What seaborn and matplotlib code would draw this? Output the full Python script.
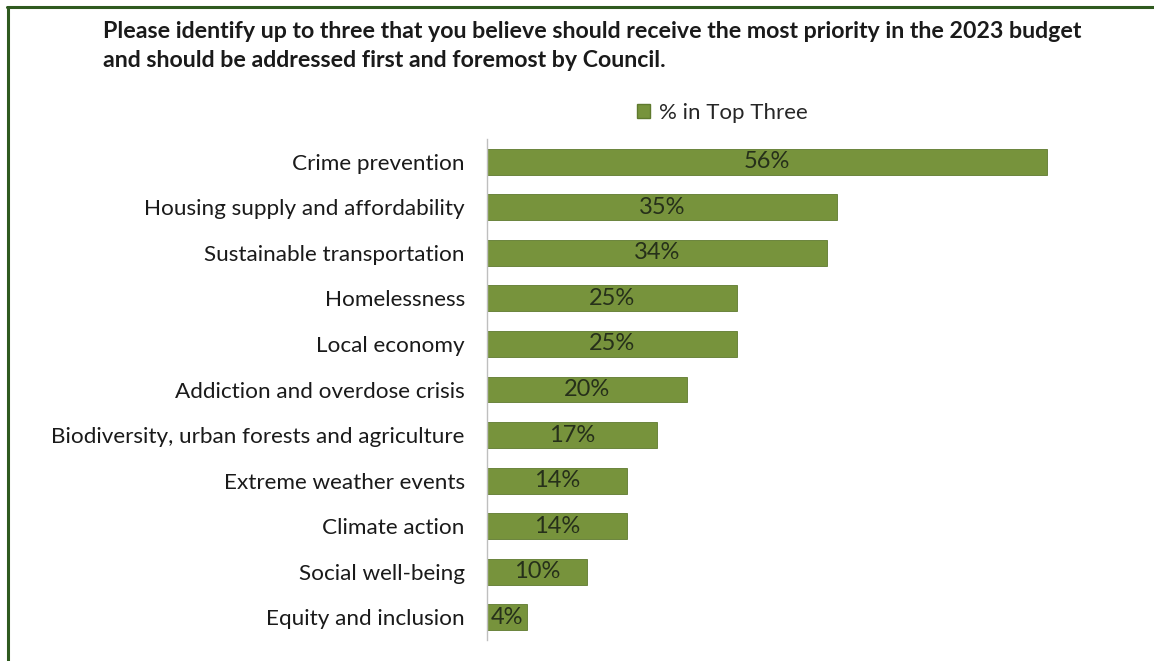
import matplotlib
matplotlib.use("Agg")
import matplotlib.pyplot as plt
import seaborn as sns
import pandas as pd
from matplotlib.lines import Line2D
from matplotlib.patches import Patch

categories = [
    "Crime prevention",
    "Housing supply and affordability",
    "Sustainable transportation",
    "Homelessness",
    "Local economy",
    "Addiction and overdose crisis",
    "Biodiversity, urban forests and agriculture",
    "Extreme weather events",
    "Climate action",
    "Social well-being",
    "Equity and inclusion",
]
values = [56, 35, 34, 25, 25, 20, 17, 14, 14, 10, 4]
series_name = "% in Top Three"
title = ("Please identify up to three that you believe should receive the most priority in the 2023 budget\n"
         "and should be addressed first and foremost by Council.")

df = pd.DataFrame({"category": categories, "value": values})

sns.set_theme(style="white")
plt.rcParams["font.family"] = ["Lato", "DejaVu Sans"]

W, H = 1154, 661
fig = plt.figure(figsize=(W / 100, H / 100), dpi=100)
x0, x1 = 487, 487 + 600
y_top, y_bot = 139, 640
ax = fig.add_axes([x0 / W, 1 - y_bot / H, (x1 - x0) / W, (y_bot - y_top) / H])

bar_color = "#77933C"
sns.barplot(data=df, x="value", y="category", ax=ax, color=bar_color,
            width=0.57, edgecolor="#5f7a2e", linewidth=0.6, saturation=1)

ax.set_xlim(0, 60)
ax.set_ylim(10.5, -0.5)
ax.set_xlabel("")
ax.set_ylabel("")
ax.set_xticks([])
for s in ["top", "right", "bottom"]:
    ax.spines[s].set_visible(False)
ax.spines["left"].set_color("#bfbfbf")
ax.spines["left"].set_linewidth(1.0)
ax.tick_params(axis="y", length=0, pad=16, labelsize=16.2, labelcolor="#1a1a1a")

for i, v in enumerate(values):
    ax.text(v / 2, i, f"{v}%", ha="center", va="center", fontsize=17, color="#26301a")

# legend
fig.legend(handles=[Patch(facecolor=bar_color, edgecolor="#5f7a2e", label=series_name)],
           loc="center", bbox_to_anchor=(722 / W, 1 - 113 / H), frameon=False,
           fontsize=16, handlelength=0.6, handleheight=0.6, handletextpad=0.4)

fig.text(103 / W, 1 - 46 / H, title, ha="left", va="center", fontsize=16.7,
         fontweight="bold", color="#1a1a1a", linespacing=1.5)

# border lines (top and left)
fig.add_artist(Line2D([7 / W, 1], [1 - 6.5 / H, 1 - 6.5 / H], transform=fig.transFigure,
                      color="#2f5a1f", linewidth=2.2))
fig.add_artist(Line2D([7.5 / W, 7.5 / W], [0, 1 - 6.5 / H], transform=fig.transFigure,
                      color="#2f5a1f", linewidth=2.2))

fig.savefig("out.png", dpi=100, facecolor="white")
